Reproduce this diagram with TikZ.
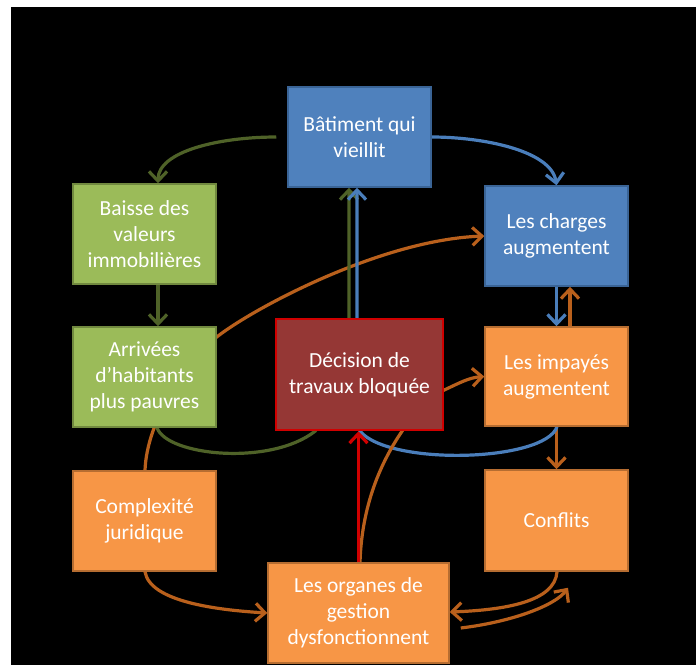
\documentclass[tikz,border=0pt]{standalone}
\usepackage{fontspec}
\setmainfont{Carlito}
\usetikzlibrary{arrows.meta,calc}
\pgfdeclarelayer{back}
\pgfdeclarelayer{bg}
\pgfsetlayers{back,bg,main}
\definecolor{bfill}{HTML}{4F81BD}
\definecolor{bdraw}{HTML}{3A6496}
\definecolor{gfill}{HTML}{9BBB59}
\definecolor{gdraw}{HTML}{71893F}
\definecolor{ofill}{HTML}{F79646}
\definecolor{odraw}{HTML}{B66D31}
\definecolor{rfill}{HTML}{953735}
\definecolor{rdraw}{HTML}{D00000}
\definecolor{garrc}{HTML}{4F6228}
\definecolor{barrc}{HTML}{4A7EBB}
\definecolor{oarrc}{HTML}{B9601C}
\definecolor{rarrc}{HTML}{D00000}
\tikzset{
  box/.style={draw, line width=1.5pt, minimum width=143pt, minimum height=100pt,
    inner sep=0pt, align=center, text=white, font=\fontsize{21.5}{26}\selectfont},
  bluebox/.style={box, fill=bfill, draw=bdraw},
  greenbox/.style={box, fill=gfill, draw=gdraw},
  orangebox/.style={box, fill=ofill, draw=odraw},
  redbox/.style={box, fill=rfill, draw=rdraw, line width=2.5pt},
  conn/.style={line width=3.2pt, -{Straight Barb[length=9.5pt,width=18pt]}},
  garr/.style={conn, draw=garrc},
  barr/.style={conn, draw=barrc},
  oarr/.style={conn, draw=oarrc},
  rarr/.style={conn, draw=rarrc},
}
\begin{document}
\begin{tikzpicture}[x=1pt,y=-1pt]
\useasboundingbox (0,0) rectangle (696,665);
\begin{pgfonlayer}{back}
\fill[white] (0,0) rectangle (696,665);
\fill[black] (11,7) rectangle (696,665);
\end{pgfonlayer}

\node[bluebox] (bat) at (359.5,137) {Bâtiment qui\\vieillit};
\node[greenbox] (baisse) at (144.5,234) {Baisse des\\valeurs\\immobilières};
\node[bluebox] (charges) at (556.5,236) {Les charges\\augmentent};
\node[greenbox] (arr) at (144.5,377) {Arrivées\\d’habitants\\plus pauvres};
\node[redbox, minimum width=167pt, minimum height=111pt] (dec) at (359.5,374.5) {Décision de\\travaux bloquée};
\node[orangebox, minimum height=99pt] (imp) at (556.5,376.5) {Les impayés\\augmentent};
\node[orangebox] (comp) at (144.5,521) {Complexité\\juridique};
\node[orangebox, minimum height=101pt] (conf) at (556.5,520.5) {Conflits};
\node[orangebox, minimum width=181pt] (org) at (358.5,613) {Les organes de\\gestion\\dysfonctionnent};
\coordinate (free) at ($(conf.south)+(11.5,16)$);

\begin{pgfonlayer}{bg}
% top arcs
\draw[garr] ($(bat.west)+(-11,0)$) .. controls +(-57,0) and +(0,-32) .. ($(baisse.north)+(13.5,0)$);
\draw[barr] (bat.east) .. controls +(50,0) and +(-5,-35) .. (charges.north);
% verticals
\draw[garr] ($(baisse.south)+(13.5,0)$) -- ($(arr.north)+(13.5,0)$);
\draw[barr] (charges.south) -- (imp.north);
\draw[oarr] ($(imp.north)+(13.5,0)$) -- ($(charges.south)+(13.5,0)$);
\draw[oarr] (imp.south) -- (conf.north);
% Complexite -> charges (behind Arrivees)
\draw[oarr] ($(comp.north)+(0.5,0)$) .. controls +(2,-51) and +(-31,28) .. ($(arr.east)+(0,-40)$)
  .. controls +(34,-27) and +(-105,4) .. (charges.west);
% Arrivees -> Batiment (behind Decision)
\draw[garr] ($(arr.south)+(12.5,0)$) .. controls +(10,28) and +(-45,35) .. ($(dec.south)+(-44.5,0)$)
  .. controls +(20,-25) and +(0,40) .. ($(dec.north)+(-10.5,0)$) -- ($(bat.south)+(-10.5,0)$);
% Impayes -> Batiment (behind Decision)
\draw[barr] ($(imp.south)+(0.5,0)$) .. controls +(-12,35) and +(30,35) .. ($(dec.south)+(0.5,0)$)
  .. controls +(-10,-12) and +(0,40) .. ($(dec.north)+(-2.5,0)$) -- ($(bat.south)+(-2.5,0)$);
% Organes -> Impayes (behind Decision)
\draw[oarr] ($(org.north)+(1.5,0)$) .. controls +(2,-63) and +(-17,25) .. ($(dec.south)+(42.5,0)$)
  .. controls +(15,-22) and +(-15,8) .. ($(dec.east)+(0,15.5)$)
  .. controls +(15,-7) and +(-15,1) .. (imp.west);
% Organes -> Decision
\draw[rarr] (org.north) -- (org.north |- dec.south);
% bottom arcs
\draw[oarr] ($(comp.south)+(0.5,0)$) .. controls +(5,30) and +(-50,-3) .. (org.west);
\draw[oarr] ($(conf.south)+(0.5,0)$) .. controls +(-2,30) and +(55,-2) .. ($(org.east)+(0,-1)$);
\draw[oarr] ($(org.east)+(11,15)$) .. controls +(50,-6) and +(-13,18) .. (free);
\end{pgfonlayer}
\end{tikzpicture}
\end{document}
